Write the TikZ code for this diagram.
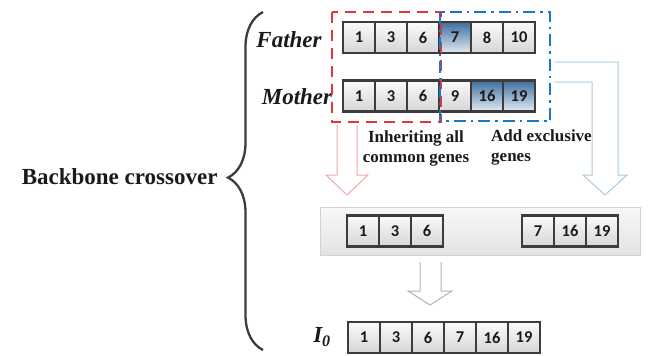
\documentclass[tikz,border=0pt]{standalone}
\usepackage{fontspec}
\setmainfont{Liberation Serif}
\newfontfamily\cellfont{Carlito}
\usepackage{tikz}
\usetikzlibrary{positioning,decorations.pathreplacing}
\definecolor{ink}{HTML}{1A1A1A}
\definecolor{cellline}{HTML}{3C3C3C}
\definecolor{celltop}{HTML}{FAFAFA}
\definecolor{cellbot}{HTML}{D6D6D6}
\definecolor{bluetop}{HTML}{3F6E9E}
\definecolor{bluebot}{HTML}{E2EAF3}
\definecolor{redbox}{HTML}{E5343A}
\definecolor{bluebox}{HTML}{1877C9}
\definecolor{pinkarr}{HTML}{F2A9A7}
\definecolor{skyarr}{HTML}{A9CBE3}
\definecolor{grayarr}{HTML}{B3B3B3}
\definecolor{bandtop}{HTML}{F8F8F8}
\definecolor{bandbot}{HTML}{E3E3E3}
\definecolor{bandline}{HTML}{D2D2D2}

\tikzset{
  gene/.style={draw=cellline,line width=2.4pt,minimum width=32pt,minimum height=31pt,
    inner sep=0pt,outer sep=0pt,top color=celltop,bottom color=cellbot,text=ink,
    font=\cellfont\bfseries\fontsize{16.5}{16.5}\selectfont},
  genehi/.style={gene,top color=bluetop,bottom color=bluebot},
  rowname/.style={text=ink,font=\bfseries\itshape\fontsize{23}{27}\selectfont},
  note/.style={text=ink,font=\bfseries\fontsize{17}{20}\selectfont,inner sep=0pt},
  hollow/.style={draw=#1,line width=1pt,fill=white,line join=miter}
}

\begin{document}
\begin{tikzpicture}[x=1pt,y=-1pt]
  \useasboundingbox (0,0) rectangle (656,356);
  % brace and title
  \draw[draw=cellline,line width=2.3pt,decorate,
    decoration={brace,amplitude=35pt,aspect=0.51}] (263,350) -- (263,12);
  \node[text=ink,font=\bfseries\fontsize{23}{27}\selectfont,anchor=east] (title)
    at (221,177) {Backbone crossover};
  % parents
  \node[rowname] (father) at (289,40) {Father};
  \node[rowname] (mother) at (297,97) {Mother};
  \foreach \v/\s [count=\i] in {1/gene,3/gene,6/gene,7/genehi,8/gene,10/gene}
    \node[\s] (f\i) at (327+32*\i,37.5) {\v};
  \foreach \v/\s [count=\i] in {1/gene,3/gene,6/gene,9/gene,16/genehi,19/genehi}
    \node[\s] (m\i) at (327+32*\i,96) {\v};
  \draw[draw=redbox,line width=2.5pt,dash pattern=on 11pt off 7pt]
    (332,12) rectangle (441,122);
  \draw[draw=bluebox,line width=2.7pt,dash pattern=on 12pt off 5pt on 2.5pt off 5pt]
    (440,12) rectangle (550,121);
  \node[note,align=center] (common) at (416,148) {Inheriting all\\common genes};
  \node[note,align=left,anchor=west] (exclusive) at (491,147) {Add exclusive\\genes};
  % hollow arrows
  \draw[hollow=pinkarr] (337,125) -- (337,175) -- (326,175) -- (347,195)
    -- (368,175) -- (357,175) -- (357,125);
  \draw[hollow=skyarr] (555,62) -- (618,62) -- (618,175) -- (627,175) -- (605,195)
    -- (583,175) -- (592,175) -- (592,82) -- (555,82);
  % child band
  \node[draw=bandline,line width=0.6pt,top color=bandtop,bottom color=bandbot,
    minimum width=320pt,minimum height=48pt,inner sep=0pt] (band) at (480,231) {};
  \foreach \v [count=\i] in {1,3,6}
    \node[gene] (c\i) at (331+32*\i,231) {\v};
  \foreach \v [count=\i] in {7,16,19}
    \node[gene] (e\i) at (506+32*\i,231) {\v};
  \draw[hollow=grayarr] (420,262) -- (420,291) -- (408,291) -- (430,305)
    -- (452,291) -- (441,291) -- (441,262);
  % offspring
  \node[rowname] (izero) at (322,337) {I\textsubscript{0}};
  \foreach \v [count=\i] in {1,3,6,7,16,19}
    \node[gene] (i\i) at (332+32*\i,337.5) {\v};
\end{tikzpicture}
\end{document}
